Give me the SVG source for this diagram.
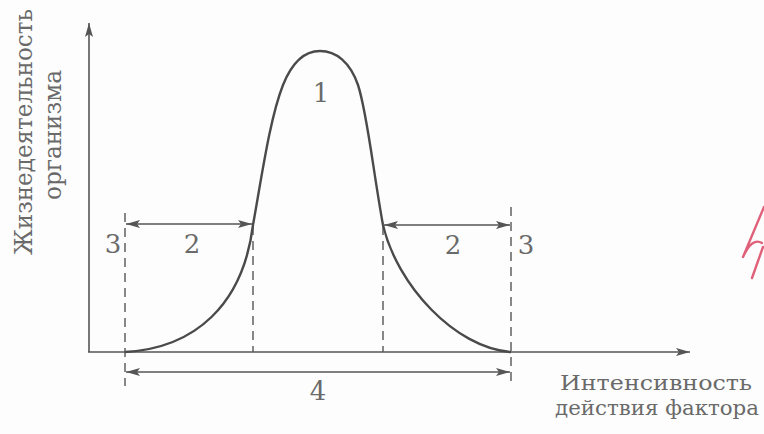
<svg xmlns="http://www.w3.org/2000/svg" width="764" height="434" viewBox="0 0 764 434">
<defs>
<marker id="ah" viewBox="0 0 14 8" refX="14" refY="4" markerWidth="14" markerHeight="8" markerUnits="userSpaceOnUse" orient="auto-start-reverse">
<path d="M0,0 L14,4 L0,8 L3,4 Z" fill="#555"/>
</marker>
</defs>
<style>
.ax{stroke:#555;stroke-width:1.6;fill:none}
.dim{stroke:#555;stroke-width:1.4;fill:none}
.dash{stroke:#555;stroke-width:1.4;fill:none;stroke-dasharray:9 6}
.curve{stroke:#4a4a4a;stroke-width:2.4;fill:none}
.t{font-family:'DejaVu Serif','Liberation Serif',serif;fill:#6a6a6a;text-anchor:middle}
.num{font-size:26px}
.lab{font-size:21px}
.yl{font-size:24px}
</style>
<rect width="764" height="434" fill="#fdfdfd"/>
<g id="connectors">
<line class="ax" x1="89" y1="352" x2="89" y2="23" marker-end="url(#ah)"/>
<line class="ax" x1="88" y1="352" x2="690" y2="352" marker-end="url(#ah)"/>
<line class="dash" x1="125" y1="213" x2="125" y2="386"/>
<line class="dash" x1="511" y1="207" x2="511" y2="386"/>
<line class="dash" x1="253" y1="226" x2="253" y2="352"/>
<line class="dash" x1="383" y1="226" x2="383" y2="352"/>
<line class="dim" x1="126" y1="224" x2="252" y2="224" marker-start="url(#ah)" marker-end="url(#ah)"/>
<line class="dim" x1="384" y1="225" x2="510" y2="225" marker-start="url(#ah)" marker-end="url(#ah)"/>
<line class="dim" x1="126" y1="372" x2="510" y2="372" marker-start="url(#ah)" marker-end="url(#ah)"/>
</g>
<g id="curve">
<path class="curve" d="M125,352 C195,348 243,305 253,225 C262,175 270,118 283,85 C293,60 306,51 320,51 C336,51 350,62 358,85 C367,112 373,170 383,225 C397,285 455,348 511,352"/>
</g>
<g id="labels">
<text class="t num" x="321" y="102">1</text>
<text class="t num" x="192" y="253">2</text>
<text class="t num" x="453" y="254">2</text>
<text class="t num" x="113" y="253">3</text>
<text class="t num" x="526" y="254">3</text>
<text class="t num" x="318" y="400">4</text>
</g>
<g id="y-label">
<text class="t yl" transform="translate(32,132) rotate(-90)" textLength="246" lengthAdjust="spacingAndGlyphs">Жизнедеятельность</text>
<text class="t yl" transform="translate(61,135) rotate(-90)" textLength="130" lengthAdjust="spacingAndGlyphs">организма</text>
</g>
<g id="x-label">
<text class="t lab" x="656" y="390" textLength="192" lengthAdjust="spacingAndGlyphs">Интенсивность</text>
<text class="t lab" x="657" y="415" textLength="204" lengthAdjust="spacingAndGlyphs">действия фактора</text>
</g>
<g id="mark">
<path d="M764,207 L743,257 Q752,237 762,243 M763,247 L752,278" stroke="#e0607a" stroke-width="2.4" fill="none" stroke-linecap="round" stroke-linejoin="round"/>
</g>
</svg>
